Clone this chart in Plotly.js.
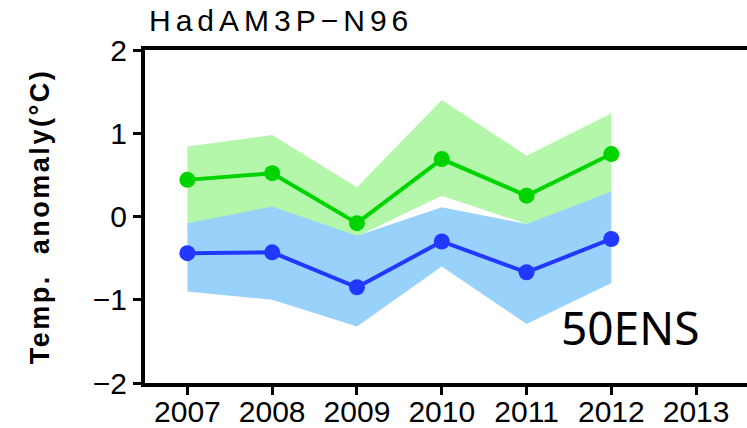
<!DOCTYPE html>
<html>
<head>
<meta charset="utf-8">
<script src="https://cdn.plot.ly/plotly-3.0.1.min.js"></script>
<style>
html,body{margin:0;padding:0;background:#fff;}
#chart{width:747px;height:428px;}
.gtitle{letter-spacing:5px;}
.ytitle{letter-spacing:2.5px;}
</style>
</head>
<body>
<div id="chart"></div>
<script>
const years = [2007, 2008, 2009, 2010, 2011, 2012];
const tickYears = [2007, 2008, 2009, 2010, 2011, 2012, 2013];
const greenMean = [0.44, 0.52, -0.08, 0.69, 0.25, 0.75];
const greenUpper = [0.84, 0.98, 0.35, 1.40, 0.73, 1.24];
const greenLower = [-0.10, 0.08, -0.24, 0.25, -0.09, 0.28];
const blueMean = [-0.44, -0.43, -0.85, -0.30, -0.67, -0.27];
const blueUpper = [-0.08, 0.12, -0.23, 0.11, -0.09, 0.30];
const blueLower = [-0.90, -1.00, -1.32, -0.60, -1.29, -0.80];
const yTicks = [-2, -1, 0, 1, 2];

function band(upper, lower, color) {
  return {
    x: years.concat(years.slice().reverse()),
    y: upper.concat(lower.slice().reverse()),
    type: 'scatter', mode: 'lines', fill: 'toself',
    fillcolor: color, line: {width: 0, color: color},
    hoverinfo: 'skip', showlegend: false
  };
}
function meanLine(vals, color) {
  return {
    x: years, y: vals, type: 'scatter', mode: 'lines+markers',
    line: {color: color, width: 4},
    marker: {color: color, size: 16},
    showlegend: false
  };
}

const data = [
  band(greenUpper, greenLower, '#b4f7aa'),
  band(blueUpper, blueLower, '#98d2fa'),
  meanLine(greenMean, '#00d400'),
  meanLine(blueMean, '#2338ff')
];

const axisFont = {family: 'Liberation Sans, Arial, sans-serif', size: 30, color: '#000'};

const layout = {
  width: 747, height: 428,
  margin: {l: 145, r: 0, t: 50, b: 45},
  paper_bgcolor: '#fff', plot_bgcolor: '#fff',
  showlegend: false,
  title: {
    text: 'HadAM3P\u2212N96',
    font: {family: 'Liberation Sans, Arial, sans-serif', size: 30, color: '#000'},
    x: 149 / 747, xref: 'container', xanchor: 'left',
    y: 1 - 20 / 428, yref: 'container', yanchor: 'middle'
  },
  xaxis: {
    range: [2006.5, 2013.6],
    tickmode: 'array', tickvals: tickYears, ticktext: tickYears.map(String),
    ticks: 'outside', ticklen: 8, tickwidth: 3, tickcolor: '#000',
    ticklabelstandoff: -9,
    showline: true, linewidth: 4, linecolor: '#000', mirror: true,
    showgrid: false, zeroline: false,
    tickfont: axisFont
  },
  yaxis: {
    range: [-2, 2],
    tickmode: 'array', tickvals: yTicks,
    ticks: 'outside', ticklen: 8, tickwidth: 3, tickcolor: '#000',
    showline: true, linewidth: 4, linecolor: '#000',
    showgrid: false, zeroline: false,
    tickfont: axisFont,
    title: {
      text: 'Temp.  anomaly(°C)',
      font: {family: 'Liberation Sans, Arial, sans-serif', size: 27, color: '#000', weight: 'bold'},
      standoff: 36
    }
  },
  annotations: [{
    text: '50ENS', xref: 'paper', yref: 'paper',
    x: (630 - 145) / 602, y: (383 - 327) / 333,
    xanchor: 'center', yanchor: 'middle', showarrow: false,
    font: {family: 'Noto Sans, sans-serif', size: 46, color: '#000'}
  }]
};

Plotly.newPlot('chart', data, layout, {displayModeBar: false, staticPlot: true});
</script>
</body>
</html>
